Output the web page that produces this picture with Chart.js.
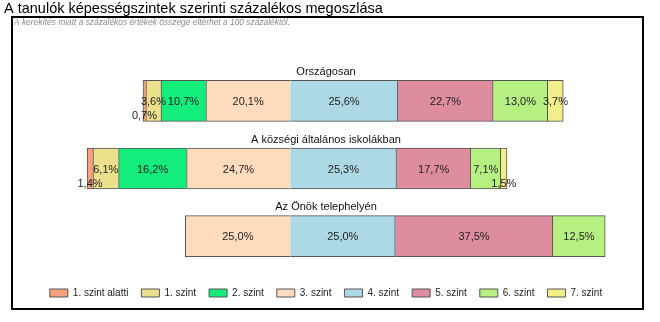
<!DOCTYPE html>
<html>
<head>
<meta charset="utf-8">
<script src="https://cdn.jsdelivr.net/npm/chart.js@4/dist/chart.umd.min.js"></script>
<style>
  html, body { margin: 0; padding: 0; background: #fff; }
  #wrap { width: 660px; height: 322px; position: relative; }
</style>
</head>
<body>
<div id="wrap"><canvas id="myChart" width="660" height="322"></canvas></div>
<script>
// categories (rows) and levels (series)
const categories = ["Országosan", "A községi általános iskolákban", "Az Önök telephelyén"];
const levels = ["1. szint alatti", "1. szint", "2. szint", "3. szint", "4. szint", "5. szint", "6. szint", "7. szint"];

// percentages per level, one value per row
const belowLevel1 = [0.7, 1.4, null];
const level1 = [3.6, 6.1, null];
const level2 = [10.7, 16.2, null];
const level3 = [20.1, 24.7, 25.0];
const level4 = [25.6, 25.3, 25.0];
const level5 = [22.7, 17.7, 37.5];
const level6 = [13.0, 7.1, 12.5];
const level7 = [3.7, 1.5, null];

const levelColors = ["#F9A07E", "#EBE18C", "#14EC7C", "#FDDBBC", "#ADD8E6", "#DE8C9F", "#B6F083", "#F2EF8A"];

const titleText = "A tanulók képességszintek szerinti százalékos megoszlása";
const noteText = "A kerekítés miatt a százalékos értékek összege eltérhet a 100 százaléktól.";

// levels below 4 go to the left of zero
const series = [belowLevel1, level1, level2, level3, level4, level5, level6, level7];
const leftSide = [true, true, true, true, false, false, false, false];
// stacking order: 3. szint nearest zero on the left side
const stackOrder = [4, 3, 2, 1, 5, 6, 7, 8];

const datasets = series.map((vals, i) => ({
  label: levels[i],
  data: vals.map(v => v == null ? null : (leftSide[i] ? -v : v)),
  backgroundColor: levelColors[i],
  borderColor: "#555",
  borderWidth: 1,
  barThickness: 41,
  order: stackOrder[i]
}));

const fmt = v => Math.abs(v).toFixed(1).replace(".", ",") + "%";

const decorPlugin = {
  id: "decor",
  beforeDraw(chart) {
    const ctx = chart.ctx;
    ctx.save();
    ctx.fillStyle = "#fff";
    ctx.fillRect(0, 0, chart.width, chart.height);
    // frame
    ctx.strokeStyle = "#000";
    ctx.lineWidth = 2;
    ctx.strokeRect(12, 17, 631, 292);
    // title
    ctx.fillStyle = "#000";
    ctx.font = "14.5px 'Liberation Sans', Arial, sans-serif";
    ctx.textBaseline = "alphabetic";
    ctx.textAlign = "left";
    ctx.fillText(titleText, 4, 13);
    // note
    ctx.fillStyle = "#8a8a8a";
    ctx.font = "italic 8.4px 'Liberation Sans', Arial, sans-serif";
    ctx.fillText(noteText, 14, 25);
    ctx.restore();
  },
  afterDatasetsDraw(chart) {
    const ctx = chart.ctx;
    const area = chart.chartArea;
    const yScale = chart.scales.y;
    ctx.save();
    ctx.textAlign = "center";
    ctx.textBaseline = "middle";
    // row titles above the bars
    ctx.fillStyle = "#111";
    ctx.font = "11px 'Liberation Sans', Arial, sans-serif";
    categories.forEach((c, i) => {
      ctx.fillText(c, (area.left + area.right) / 2, yScale.getPixelForValue(i) - 29);
    });
    // value labels
    ctx.fillStyle = "#222";
    chart.data.datasets.forEach((ds, di) => {
      const meta = chart.getDatasetMeta(di);
      meta.data.forEach((el, j) => {
        const v = ds.data[j];
        if (v == null) return;
        const x = (el.x + el.base) / 2;
        const y = Math.abs(v) < 2 ? el.y + 15 : el.y + 1;
        ctx.fillText(fmt(v), x, y);
      });
    });
    ctx.restore();
  }
};

new Chart("myChart", {
  type: "bar",
  data: { labels: categories, datasets: datasets },
  options: {
    indexAxis: "y",
    responsive: false,
    animation: false,
    layout: { padding: { top: 67, left: 30, right: 38, bottom: 14 } },
    scales: {
      x: {
        stacked: true, min: -62, max: 79,
        grid: { display: false },
        ticks: { display: false },
        border: { display: false },
        afterFit: scale => { scale.height = 5; }
      },
      y: { stacked: true, display: false }
    },
    plugins: {
      tooltip: { enabled: false },
      legend: {
        position: "bottom",
        labels: {
          sort: (a, b) => a.datasetIndex - b.datasetIndex,
          boxWidth: 18,
          boxHeight: 8,
          padding: 13,
          color: "#222",
          font: { size: 10, family: "'Liberation Sans', Arial, sans-serif" }
        }
      }
    }
  },
  plugins: [decorPlugin]
});
</script>
</body>
</html>
